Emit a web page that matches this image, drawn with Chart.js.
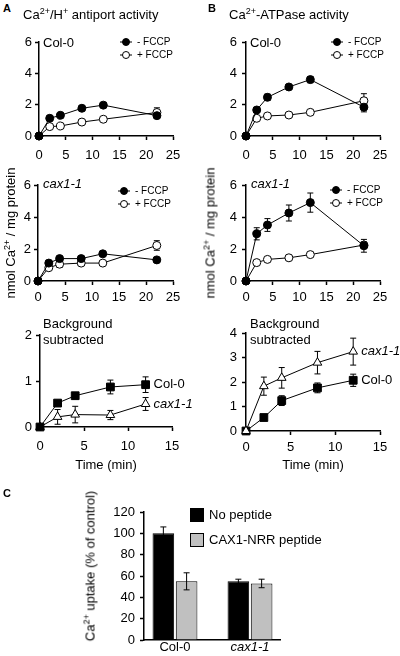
<!DOCTYPE html>
<html>
<head>
<meta charset="utf-8">
<script src="https://cdn.jsdelivr.net/npm/chart.js@4.4.1/dist/chart.umd.min.js"></script>
<style>
  body { margin: 0; background: #fff; width: 400px; height: 656px; position: relative; overflow: hidden;
         font-family: "Liberation Sans", Arial, sans-serif; color: #000; }
  canvas { position: absolute; }
  .t { position: absolute; font-size: 13px; line-height: 15px; white-space: nowrap; z-index: 5; }
  .t sup, .yl sup { font-size: 9px; line-height: 0; vertical-align: 5px; }
  .lt { position: absolute; font-weight: bold; font-size: 11px; z-index: 5; }
  .yl { position: absolute; font-size: 13px; white-space: nowrap; z-index: 5;
        transform: translate(-50%, -50%) rotate(-90deg); }
  i { font-style: italic; }
</style>
</head>
<body>
<div class="lt" style="left:3px;top:2px">A</div>
<div class="t" style="left:23px;top:7px">Ca<sup>2+</sup>/H<sup>+</sup> antiport activity</div>
<div class="lt" style="left:208px;top:2px">B</div>
<div class="t" style="left:229px;top:7px">Ca<sup>2+</sup>-ATPase activity</div>

<div class="t" style="left:43px;top:35px">Col-0</div>
<div class="t" style="left:250px;top:35px">Col-0</div>
<div class="t" style="left:43px;top:176px"><i>cax1-1</i></div>
<div class="t" style="left:251px;top:176px"><i>cax1-1</i></div>
<div class="t" style="left:43px;top:316px;line-height:16px">Background<br>subtracted</div>
<div class="t" style="left:250px;top:316px;line-height:16px">Background<br>subtracted</div>

<div class="yl" style="left:10px;top:233px">nmol Ca<sup>2+</sup> / mg protein</div>
<div class="yl" style="left:210px;top:233px">nmol Ca<sup>2+</sup> / mg protein</div>

<div class="lt" style="left:3px;top:487px">C</div>
<div class="yl" style="left:90px;top:566px">Ca<sup>2+</sup> uptake (% of control)</div>

<canvas id="a1" width="200" height="142" style="left:0;top:28px"></canvas>
<canvas id="b1" width="200" height="142" style="left:200px;top:28px"></canvas>
<canvas id="a2" width="200" height="140" style="left:0;top:170px"></canvas>
<canvas id="b2" width="200" height="140" style="left:200px;top:170px"></canvas>
<canvas id="a3" width="200" height="170" style="left:0;top:310px"></canvas>
<canvas id="b3" width="200" height="170" style="left:200px;top:310px"></canvas>
<canvas id="c" width="280" height="176" style="left:80px;top:480px"></canvas>

<script>
// time points (min)
const timeLong = [0, 2, 4, 8, 12, 22];
const timeShort = [0, 2, 4, 8, 12];

// Ca2+/H+ antiport, Col-0
const antCol0Minus = [0, 1.13, 1.32, 1.77, 1.97, 1.3];
const antCol0MinusErr = [0, 0.1, 0.1, 0.12, 0.15, 0.12];
const antCol0Plus = [0, 0.6, 0.64, 0.89, 1.07, 1.5];
const antCol0PlusErr = [0, 0.08, 0.08, 0.08, 0.08, 0.3];
// Ca2+-ATPase, Col-0
const atpCol0Minus = [0, 1.66, 2.47, 3.13, 3.6, 1.84];
const atpCol0MinusErr = [0, 0.15, 0.2, 0.15, 0.2, 0.3];
const atpCol0Plus = [0, 1.13, 1.28, 1.34, 1.51, 2.25];
const atpCol0PlusErr = [0, 0.1, 0.08, 0.08, 0.08, 0.45];
// Ca2+/H+ antiport, cax1-1
const antCaxMinus = [0, 1.12, 1.4, 1.4, 1.7, 1.32];
const antCaxMinusErr = [0, 0.1, 0.1, 0.1, 0.12, 0.08];
const antCaxPlus = [0, 0.83, 1.05, 1.12, 1.12, 2.22];
const antCaxPlusErr = [0, 0.12, 0.2, 0.15, 0.1, 0.3];
// Ca2+-ATPase, cax1-1
const atpCaxMinus = [0, 2.95, 3.5, 4.25, 4.9, 2.2];
const atpCaxMinusErr = [0, 0.38, 0.4, 0.5, 0.6, 0.4];
const atpCaxPlus = [0, 1.15, 1.35, 1.45, 1.65, 2.25];
const atpCaxPlusErr = [0, 0.1, 0.1, 0.15, 0.1, 0.2];
// background subtracted
const antSubCol0 = [0, 0.52, 0.68, 0.87, 0.92];
const antSubCol0Err = [0, 0.05, 0.07, 0.15, 0.17];
const antSubCax = [0, 0.22, 0.27, 0.26, 0.5];
const antSubCaxErr = [0, 0.16, 0.18, 0.1, 0.14];
const atpSubCax = [0, 1.83, 2.17, 2.79, 3.24];
const atpSubCaxErr = [0, 0.37, 0.42, 0.46, 0.55];
const atpSubCol0 = [0, 0.55, 1.24, 1.76, 2.07];
const atpSubCol0Err = [0, 0.1, 0.2, 0.2, 0.25];

// panel C
const groups = ['Col-0', 'cax1-1'];
const noPeptide = [100, 55];
const noPeptideErr = [6, 2];
const nrrPeptide = [55, 53];
const nrrPeptideErr = [8, 4];

Chart.defaults.font.family = '"Liberation Sans", Arial, sans-serif';
Chart.defaults.color = '#000';

// vertical error bars, read from dataset.errors
const errorBars = {
  id: 'errorBars',
  draw(chart) {
    const { ctx, scales: { y } } = chart;
    ctx.save();
    ctx.strokeStyle = '#000';
    ctx.lineWidth = 1;
    chart.data.datasets.forEach((ds, i) => {
      if (!ds.errors) return;
      chart.getDatasetMeta(i).data.forEach((el, j) => {
        const e = ds.errors[j];
        if (!e) return;
        const v = ds.data[j].y;
        const top = y.getPixelForValue(v + e), bot = y.getPixelForValue(v - e);
        ctx.beginPath();
        ctx.moveTo(el.x, top); ctx.lineTo(el.x, bot);
        ctx.moveTo(el.x - 3, top); ctx.lineTo(el.x + 3, top);
        ctx.moveTo(el.x - 3, bot); ctx.lineTo(el.x + 3, bot);
        ctx.stroke();
      });
    });
    ctx.restore();
  },
  beforeDatasetsDraw(chart, args, opts) { if (!opts.front) this.draw(chart); },
  afterDatasetsDraw(chart, args, opts) { if (opts.front) this.draw(chart); }
};

// small in-plot legend
const keyBox = {
  id: 'keyBox',
  afterDraw(chart, args, o) {
    if (!o.show) return;
    const { ctx, chartArea: a } = chart;
    ctx.save();
    ctx.font = o.font;
    ctx.textBaseline = 'middle';
    chart.data.datasets.forEach((ds, i) => {
      const x = a.left + o.x, y = a.top + o.y + i * o.dy;
      if (chart.config.type === 'bar') {
        ctx.fillStyle = ds.backgroundColor;
        ctx.fillRect(x, y - o.size / 2, o.size, o.size);
        ctx.strokeStyle = '#000';
        ctx.lineWidth = 1;
        ctx.strokeRect(x + 0.5, y - o.size / 2 + 0.5, o.size - 1, o.size - 1);
        ctx.fillStyle = '#000';
        ctx.fillText(ds.label, x + o.size + 5, y);
      } else {
        ctx.strokeStyle = '#000';
        ctx.lineWidth = 1;
        ctx.beginPath();
        ctx.moveTo(x - 6, y); ctx.lineTo(x + 6, y);
        ctx.stroke();
        ctx.fillStyle = ds.pointBackgroundColor;
        Chart.helpers.drawPoint(ctx, { pointStyle: ds.pointStyle, radius: ds.pointRadius - 0.5, borderWidth: 1 }, x, y);
        ctx.fillStyle = '#000';
        ctx.fillText(ds.label, x + 11, y);
      }
    });
    ctx.restore();
  }
};

// labels at the end of each line
const endLabels = {
  id: 'endLabels',
  afterDatasetsDraw(chart, args, o) {
    if (!o.show) return;
    const { ctx } = chart;
    ctx.save();
    ctx.textBaseline = 'middle';
    ctx.fillStyle = '#000';
    chart.data.datasets.forEach((ds, i) => {
      const pts = chart.getDatasetMeta(i).data;
      const p = pts[pts.length - 1];
      ctx.font = (ds.italic ? 'italic ' : '') + '13px "Liberation Sans", Arial, sans-serif';
      ctx.fillText(ds.label, p.x + 8, p.y);
    });
    ctx.restore();
  }
};

Chart.register(errorBars, keyBox, endLabels);

const solidDot = { pointStyle: 'circle', pointRadius: 4, pointBackgroundColor: '#000' };
const openDot = { pointStyle: 'circle', pointRadius: 4, pointBackgroundColor: '#fff' };
const solidSquare = { pointStyle: 'rect', pointRadius: 5.5, pointBackgroundColor: '#000' };
const openTriangle = { pointStyle: 'triangle', pointRadius: 5, pointBackgroundColor: '#fff' };

function series(label, xs, ys, errs, look, italic) {
  return Object.assign({
    label, italic,
    data: xs.map((x, i) => ({ x, y: ys[i] })),
    errors: errs,
    borderColor: '#000', borderWidth: 1,
    pointBorderColor: '#000', pointBorderWidth: 1,
    clip: false
  }, look);
}

function linePanel(id, area, xMax, yMax, yStep, datasets, opts) {
  const cv = document.getElementById(id);
  return new Chart(cv, {
    type: 'line',
    data: { datasets },
    options: {
      responsive: false,
      animation: false,
      layout: { padding: { left: 0, top: area.t, right: cv.width - area.r, bottom: 0 } },
      plugins: {
        legend: { display: false },
        tooltip: { enabled: false },
        errorBars: { front: false },
        keyBox: opts.key || { show: false },
        endLabels: { show: !!opts.ends }
      },
      scales: {
        x: {
          type: 'linear', min: 0, max: xMax,
          ticks: { stepSize: 5, padding: opts.xPad, maxRotation: 0, font: { size: 13 } },
          grid: { drawOnChartArea: false, tickLength: 4, tickColor: '#000', tickWidth: 1.5 },
          border: { color: '#000', width: 1.5 },
          title: opts.xTitle
            ? { display: true, text: opts.xTitle, font: { size: 13 }, padding: { top: 0, bottom: 7 } }
            : { display: false },
          afterFit: s => { s.height = cv.height - area.b; }
        },
        y: {
          min: 0, max: yMax,
          ticks: { stepSize: yStep, padding: opts.yPad, font: { size: 13 } },
          grid: { drawOnChartArea: false, tickLength: 4, tickColor: '#000', tickWidth: 1.5 },
          border: { color: '#000', width: 1.5 },
          afterFit: s => { s.width = area.l; }
        }
      }
    }
  });
}

const keyFont = '10px "Liberation Sans", Arial, sans-serif';

linePanel('a1', { l: 39, t: 14, r: 173, b: 108 }, 25, 6, 2, [
  series('- FCCP', timeLong, antCol0Minus, antCol0MinusErr, solidDot),
  series('+ FCCP', timeLong, antCol0Plus, antCol0PlusErr, openDot)
], { xPad: 8, yPad: 3, key: { show: true, x: 87, y: 0, dy: 13, font: keyFont } });

linePanel('b1', { l: 46, t: 14, r: 180, b: 108 }, 25, 6, 2, [
  series('- FCCP', timeLong, atpCol0Minus, atpCol0MinusErr, solidDot),
  series('+ FCCP', timeLong, atpCol0Plus, atpCol0PlusErr, openDot)
], { xPad: 8, yPad: 5, key: { show: true, x: 91, y: 0, dy: 13, font: keyFont } });

linePanel('a2', { l: 38, t: 15, r: 173, b: 111 }, 25, 6, 2, [
  series('- FCCP', timeLong, antCaxMinus, antCaxMinusErr, solidDot),
  series('+ FCCP', timeLong, antCaxPlus, antCaxPlusErr, openDot)
], { xPad: 5, yPad: 3, key: { show: true, x: 86, y: 6, dy: 13, font: keyFont } });

linePanel('b2', { l: 46, t: 15, r: 180, b: 111 }, 25, 6, 2, [
  series('- FCCP', timeLong, atpCaxMinus, atpCaxMinusErr, solidDot),
  series('+ FCCP', timeLong, atpCaxPlus, atpCaxPlusErr, openDot)
], { xPad: 5, yPad: 5, key: { show: true, x: 90, y: 5, dy: 13, font: keyFont } });

linePanel('a3', { l: 40, t: 25, r: 172, b: 117 }, 15, 2, 1, [
  series('Col-0', timeShort, antSubCol0, antSubCol0Err, solidSquare, false),
  series('cax1-1', timeShort, antSubCax, antSubCaxErr, openTriangle, true)
], { xPad: 8, yPad: 4, xTitle: 'Time (min)', ends: true });

linePanel('b3', { l: 46, t: 23, r: 180, b: 121 }, 15, 4, 1, [
  series('cax1-1', timeShort, atpSubCax, atpSubCaxErr, openTriangle, true),
  series('Col-0', timeShort, atpSubCol0, atpSubCol0Err, solidSquare, false)
], { xPad: 5, yPad: 5, xTitle: 'Time (min)', ends: true });

// Panel C: grouped bars
const cCanvas = document.getElementById('c');
new Chart(cCanvas, {
  type: 'bar',
  data: {
    datasets: [
      { label: 'No peptide', data: groups.map((g, i) => ({ x: i, y: noPeptide[i] })), errors: noPeptideErr,
        backgroundColor: '#000', borderColor: '#000', borderWidth: 1 },
      { label: 'CAX1-NRR peptide', data: groups.map((g, i) => ({ x: i, y: nrrPeptide[i] })), errors: nrrPeptideErr,
        backgroundColor: '#c0c0c0', borderColor: '#000', borderWidth: 1 }
    ]
  },
  options: {
    responsive: false,
    animation: false,
    categoryPercentage: 0.62,
    barPercentage: 0.93,
    layout: { padding: { left: 0, top: 32, right: 80, bottom: 0 } },
    plugins: {
      legend: { display: false },
      tooltip: { enabled: false },
      errorBars: { front: true },
      keyBox: { show: true, x: 46, y: 3, dy: 25, size: 14, font: '13px "Liberation Sans", Arial, sans-serif' },
      endLabels: { show: false }
    },
    scales: {
      x: {
        type: 'linear', min: -0.413, max: 1.4, offset: false,
        afterBuildTicks: s => { s.ticks = groups.map((g, i) => ({ value: i })); },
        ticks: {
          padding: 0,
          callback: v => groups[v],
          font: c => ({ size: 13, style: c.index === 1 ? 'italic' : 'normal' })
        },
        grid: { display: false, drawTicks: false, tickLength: 0 },
        border: { color: '#000', width: 1.5 },
        afterFit: s => { s.height = 16; }
      },
      y: {
        min: 0, max: 120,
        ticks: { stepSize: 20, padding: 5, font: { size: 13 } },
        grid: { drawOnChartArea: false, tickLength: 4, tickColor: '#000', tickWidth: 1.5 },
        border: { color: '#000', width: 1.5 },
        afterFit: s => { s.width = 64; }
      }
    }
  }
});
</script>
</body>
</html>
